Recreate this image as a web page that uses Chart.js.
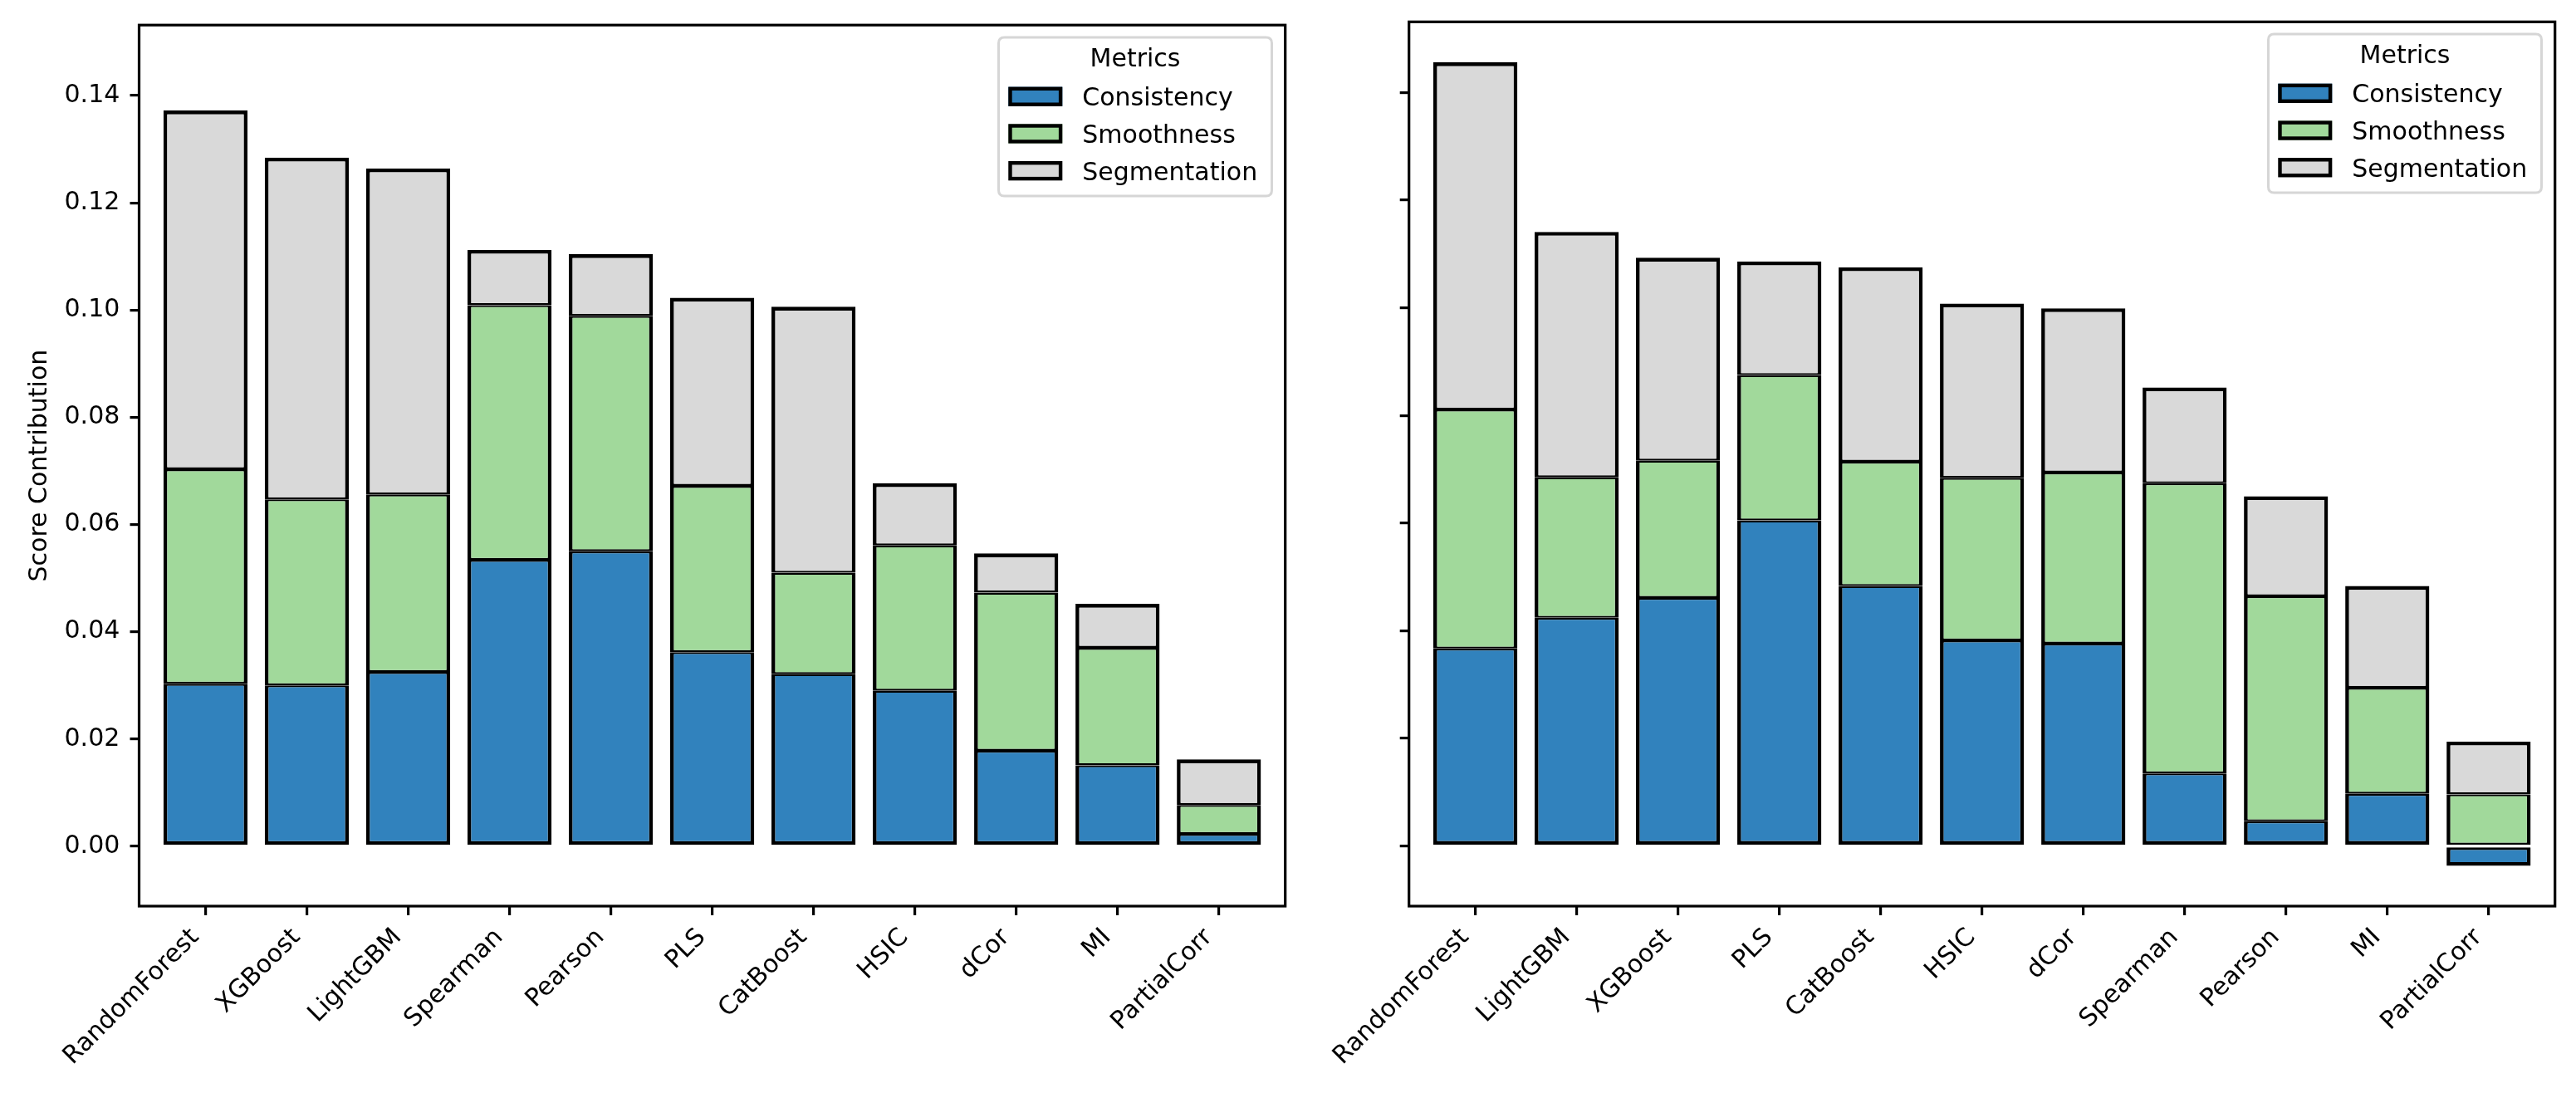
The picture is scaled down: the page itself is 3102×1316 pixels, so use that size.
<!DOCTYPE html>
<html>
<head>
<meta charset="utf-8">
<script src="https://cdn.jsdelivr.net/npm/chart.js@4.4.1/dist/chart.umd.min.js"></script>
<style>
  html, body { margin: 0; padding: 0; background: #ffffff; overflow: hidden; }
  body { width: 3102px; height: 1316px; position: relative; }
  canvas { position: absolute; top: 0; }
  #leftChart { left: 0px; }
  #rightChart { left: 1600px; }
</style>
</head>
<body>
<canvas id="leftChart" width="1600" height="1316" style="width:1600px;height:1316px"></canvas>
<canvas id="rightChart" width="1502" height="1316" style="width:1502px;height:1316px"></canvas>
<script>
// ---------------- data ----------------
const categoriesLeft = ['RandomForest', 'XGBoost', 'LightGBM', 'Spearman', 'Pearson', 'PLS', 'CatBoost', 'HSIC', 'dCor', 'MI', 'PartialCorr'];
const consistencyLeft  = [0.0303, 0.0300, 0.0325, 0.0534, 0.0550, 0.0362, 0.0321, 0.0290, 0.0178, 0.0151, 0.0023];
const smoothnessLeft   = [0.0400, 0.0347, 0.0331, 0.0475, 0.0439, 0.0310, 0.0189, 0.0271, 0.0295, 0.0219, 0.0054];
const segmentationLeft = [0.0669, 0.0637, 0.0608, 0.0103, 0.0115, 0.0351, 0.0496, 0.0116, 0.0073, 0.0082, 0.0085];

const categoriesRight = ['RandomForest', 'LightGBM', 'XGBoost', 'PLS', 'CatBoost', 'HSIC', 'dCor', 'Spearman', 'Pearson', 'MI', 'PartialCorr'];
const consistencyRight  = [0.0367, 0.0424, 0.0461, 0.0605, 0.0483, 0.0382, 0.0376, 0.0135, 0.0046, 0.0097, -0.0037];
const smoothnessRight   = [0.0444, 0.0261, 0.0255, 0.0270, 0.0231, 0.0302, 0.0318, 0.0539, 0.0418, 0.0197, 0.0096];
const segmentationRight = [0.0645, 0.0456, 0.0377, 0.0211, 0.0361, 0.0324, 0.0305, 0.0178, 0.0186, 0.0189, 0.0098];

const seriesNames = ['Consistency', 'Smoothness', 'Segmentation'];
const yTicks = [0.00, 0.02, 0.04, 0.06, 0.08, 0.10, 0.12, 0.14];
const yAxisTitle = 'Score Contribution';
const legendTitle = 'Metrics';

// ---------------- styling ----------------
const FONT = 'DejaVu Sans';
const COLORS = ['#3182bd', '#a1d99b', '#d9d9d9'];
const BORDERS = [
  { top: 2.4, bottom: 4.6, left: 4.6, right: 4.6 },
  { top: 2.4, bottom: 2.4, left: 4.6, right: 4.6 },
  { top: 4.6, bottom: 2.4, left: 4.6, right: 4.6 }
];
const BORDER_NEG = { top: 3.4, bottom: 4.6, left: 4.6, right: 4.6 };

const framePlugin = {
  id: 'frame',
  afterDraw(chart) {
    const { ctx, chartArea: a } = chart;
    ctx.save();
    ctx.strokeStyle = '#000';
    ctx.lineWidth = 3.2;
    ctx.strokeRect(a.left, a.top, a.right - a.left, a.bottom - a.top);
    ctx.restore();
  }
};

const legendPlugin = {
  id: 'boxLegend',
  afterDraw(chart) {
    const { ctx, chartArea: a } = chart;
    const w = 332, h = 194;
    const x0 = a.right - 14.7 - w;
    const y0 = a.top + 13.2;
    ctx.save();
    const r = 7, lw = 3;
    const x = x0 + lw / 2, y = y0 + lw / 2, ww = w - lw, hh = h - lw;
    ctx.beginPath();
    ctx.moveTo(x + r, y);
    ctx.lineTo(x + ww - r, y);
    ctx.quadraticCurveTo(x + ww, y, x + ww, y + r);
    ctx.lineTo(x + ww, y + hh - r);
    ctx.quadraticCurveTo(x + ww, y + hh, x + ww - r, y + hh);
    ctx.lineTo(x + r, y + hh);
    ctx.quadraticCurveTo(x, y + hh, x, y + hh - r);
    ctx.lineTo(x, y + r);
    ctx.quadraticCurveTo(x, y, x + r, y);
    ctx.closePath();
    ctx.fillStyle = 'rgba(255,255,255,0.8)';
    ctx.fill();
    ctx.strokeStyle = '#d6d6d6';
    ctx.lineWidth = lw;
    ctx.stroke();
    ctx.fillStyle = '#000';
    ctx.font = '30px "' + FONT + '"';
    ctx.textBaseline = 'alphabetic';
    ctx.textAlign = 'center';
    ctx.fillText(legendTitle, x0 + w / 2, y0 + 36.4);
    ctx.textAlign = 'left';
    chart.data.datasets.forEach((ds, i) => {
      const hx = x0 + 13.3, hy = y0 + 61.2 + 44.7 * i, hw = 65, hh2 = 23.3;
      ctx.fillStyle = ds.backgroundColor;
      ctx.fillRect(hx, hy, hw, hh2);
      ctx.strokeStyle = '#000';
      ctx.lineWidth = 4.4;
      ctx.strokeRect(hx + 2.2, hy + 2.2, hw - 4.4, hh2 - 4.4);
      ctx.fillStyle = '#000';
      ctx.fillText(ds.label, x0 + 102.3, y0 + 83.8 + 44.7 * i);
    });
    ctx.restore();
  }
};

function makeChart(canvasId, cats, cons, smooth, seg, opt) {
  const toPts = arr => arr.map((v, i) => ({ x: i, y: v }));
  const series = [cons, smooth, seg];
  return new Chart(document.getElementById(canvasId), {
    type: 'bar',
    data: {
      datasets: series.map((arr, k) => ({
        label: seriesNames[k],
        data: toPts(arr),
        backgroundColor: COLORS[k],
        borderColor: '#000000',
        borderWidth: c => (k === 0 && c.raw && c.raw.y < 0) ? BORDER_NEG : BORDERS[k],
        borderSkipped: false,
        barPercentage: 0.83,
        categoryPercentage: 1.0
      }))
    },
    options: {
      responsive: false,
      animation: false,
      layout: { padding: { top: 26.3, right: opt.padRight, left: 0, bottom: 0 } },
      plugins: { legend: { display: false }, tooltip: { enabled: false } },
      scales: {
        x: {
          type: 'linear',
          stacked: true,
          min: -0.655,
          max: 10.655,
          offset: false,
          afterBuildTicks: s => { s.ticks = cats.map((_, i) => ({ value: i })); },
          afterFit: s => { s.height = 225; },
          grid: { display: true, drawOnChartArea: false, drawTicks: true, tickLength: 11, lineWidth: 3.2, color: '#000', offset: false },
          border: { display: false },
          ticks: {
            autoSkip: false, maxRotation: 45, minRotation: 45,
            padding: 9.3, labelOffset: -12.4, color: '#000',
            font: { family: FONT, size: 30 },
            callback: v => cats[v]
          }
        },
        y: {
          type: 'linear',
          stacked: true,
          min: -0.01117,
          max: 0.15313,
          afterBuildTicks: s => { s.ticks = yTicks.map(v => ({ value: v })); },
          afterFit: s => { s.width = opt.yWidth; },
          grid: { display: true, drawOnChartArea: false, drawTicks: true, tickLength: 11, lineWidth: 3.2, color: '#000' },
          border: { display: false },
          ticks: {
            display: opt.showY, padding: 12.2, color: '#000',
            font: { family: FONT, size: 30 },
            callback: v => v.toFixed(2)
          },
          title: {
            display: opt.showY, text: yAxisTitle, color: '#000',
            font: { family: FONT, size: 30, lineHeight: 1.2 },
            padding: { top: 30.4, bottom: 0 }
          }
        }
      }
    },
    plugins: [framePlugin, legendPlugin]
  });
}

makeChart('leftChart', categoriesLeft, consistencyLeft, smoothnessLeft, segmentationLeft,
  { yWidth: 167.5, padRight: 52.3, showY: true });
makeChart('rightChart', categoriesRight, consistencyRight, smoothnessRight, segmentationRight,
  { yWidth: 96.7, padRight: 25.3, showY: false });
</script>
</body>
</html>
